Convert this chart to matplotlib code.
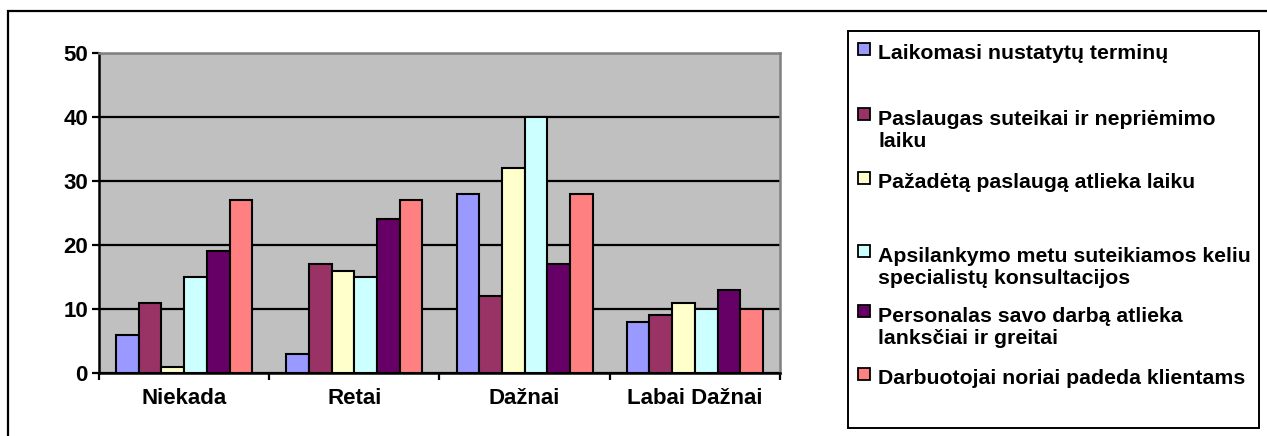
import numpy as np
import matplotlib.pyplot as plt
from matplotlib.patches import Rectangle

plt.rcParams['font.family'] = ['Liberation Sans', 'DejaVu Sans']
plt.rcParams['font.weight'] = 'bold'

categories = ['Niekada', 'Retai', 'Dažnai', 'Labai Dažnai']
series_names = [
    'Laikomasi nustatytų terminų',
    'Paslaugas suteikai ir nepriėmimo\nlaiku',
    'Pažadėtą paslaugą atlieka laiku',
    'Apsilankymo metu suteikiamos keliu\nspecialistų konsultacijos',
    'Personalas savo darbą atlieka\nlanksčiai ir greitai',
    'Darbuotojai noriai padeda klientams',
]
values = [
    [6, 3, 28, 8],
    [11, 17, 12, 9],
    [1, 16, 32, 11],
    [15, 15, 40, 10],
    [19, 24, 17, 13],
    [27, 27, 28, 10],
]
colors = ['#9999FF', '#993366', '#FFFFCC', '#CCFFFF', '#660066', '#FF8080']

W, H = 1267, 436
fig = plt.figure(figsize=(W / 100, H / 100), dpi=100)


def fx(px):
    return px / W


def fy(py):
    return 1 - py / H


# outer chart frame
fig.patches.append(Rectangle((fx(8), fy(445)), fx(1290) - fx(8), fy(11) - fy(445),
                             transform=fig.transFigure, fill=False,
                             edgecolor='black', lw=1.6))

ax = fig.add_axes([fx(99), fy(373), fx(780) - fx(99), fy(53) - fy(373)])
ax.set_facecolor('#C0C0C0')

n = len(values)
bw = 1 / (n + 1.5)
x = np.arange(len(categories))
for i, (vals, c) in enumerate(zip(values, colors)):
    ax.bar(x + (i - (n - 1) / 2) * bw, vals, bw, color=c,
           edgecolor='black', lw=1.5, zorder=3)

ax.set_xlim(-0.5, len(categories) - 0.5)
ax.set_ylim(0, 50)
ax.set_yticks(range(0, 51, 10))
ax.yaxis.grid(True, color='black', lw=1.6, zorder=1)
ax.set_axisbelow(True)

ax.set_xticks(x)
ax.set_xticklabels(categories, fontsize=16, fontweight='bold')
ax.set_xticks(np.arange(len(categories) + 1) - 0.5, minor=True)
ax.tick_params(axis='x', which='major', length=0, pad=11)
ax.tick_params(axis='x', which='minor', length=5, width=1.6, color='black')
ax.tick_params(axis='y', length=5, width=1.6, labelsize=16, pad=3)
for lbl in ax.get_yticklabels():
    lbl.set_fontweight('bold')

for s in ['left', 'bottom']:
    ax.spines[s].set_color('black')
    ax.spines[s].set_linewidth(1.8)
for s in ['top', 'right']:
    ax.spines[s].set_color('#808080')
    ax.spines[s].set_linewidth(1.8)

# legend box drawn by hand
fig.patches.append(Rectangle((fx(848), fy(428)), fx(1259) - fx(848), fy(31) - fy(428),
                             transform=fig.transFigure, fill=False,
                             edgecolor='black', lw=1.4))
baselines = [59, 124, 188, 261, 321, 384]
line_gap = 23
for name, c, b in zip(series_names, colors, baselines):
    fig.patches.append(Rectangle((fx(858), fy(b - 4)), fx(12), fy(0) - fy(12),
                                 transform=fig.transFigure, facecolor=c,
                                 edgecolor='black', lw=1.3))
    # multi-line text is anchored on its last baseline
    last = b + line_gap * name.count('\n')
    fig.text(fx(878), fy(last), name, fontsize=15.3, fontweight='bold',
             va='baseline', ha='left', linespacing=1.2)

fig.savefig('out.png', dpi=100)
